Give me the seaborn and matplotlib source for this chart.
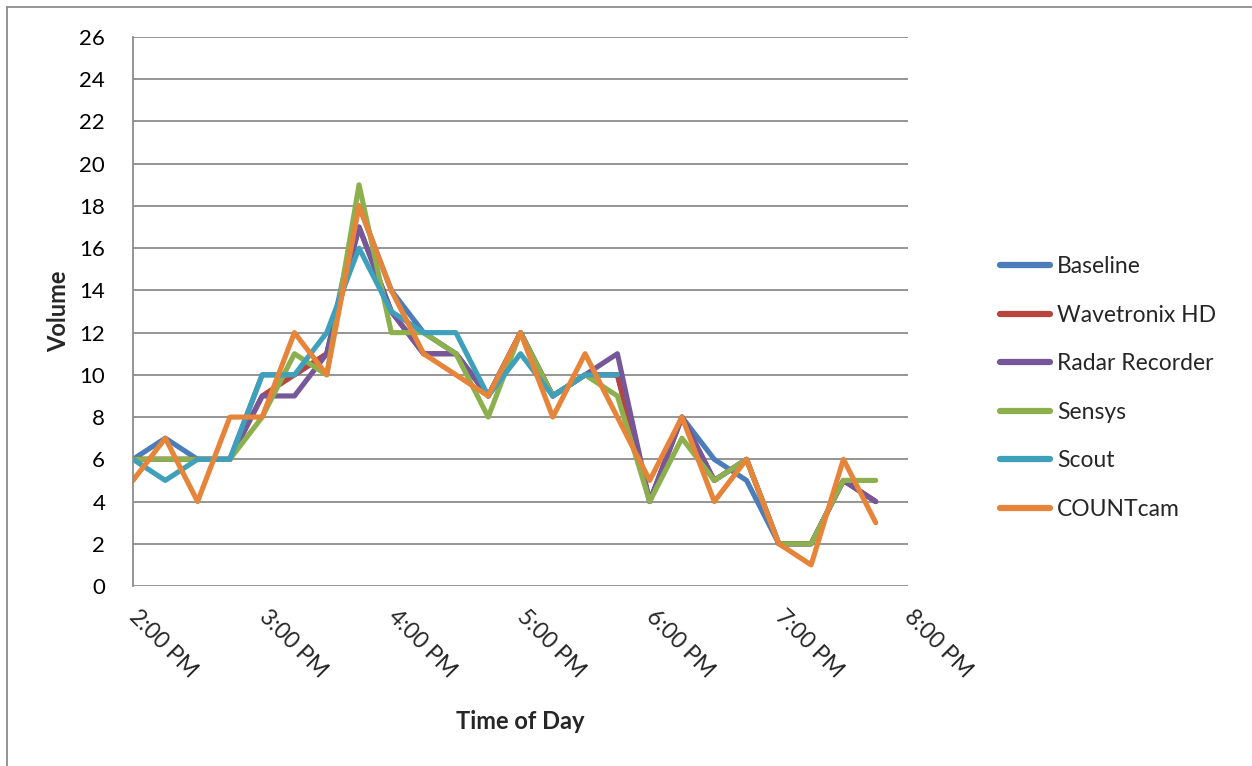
import numpy as np
import pandas as pd
import matplotlib
matplotlib.use("Agg")
import matplotlib.pyplot as plt
from matplotlib.lines import Line2D
import seaborn as sns

# 15-minute counts, 2:00 PM to 7:45 PM
times = ["14:00", "14:15", "14:30", "14:45", "15:00", "15:15", "15:30", "15:45",
         "16:00", "16:15", "16:30", "16:45", "17:00", "17:15", "17:30", "17:45",
         "18:00", "18:15", "18:30", "18:45", "19:00", "19:15", "19:30", "19:45"]

baseline = [6, 7, 6, 6, 10, 10, 11, 18, 14, 12, 11, 9, 12, 9, 10, 10, 4, 8, 6, 5, 2, 2, 5, 4]
wavetronix = [6, 6, 6, 6, 9, 10, 11, 17, 13, 11, 11, 9, 12, 9, 10, 10, 4, 8, 5, 6, 2, 2, 5, 4]
radar = [6, 6, 6, 6, 9, 9, 11, 17, 13, 11, 11, 9, 12, 9, 10, 11, 4, 8, 5, 6, 2, 2, 5, 4]
sensys = [6, 6, 6, 6, 8, 11, 10, 19, 12, 12, 11, 8, 12, 9, 10, 9, 4, 7, 5, 6, 2, 2, 5, 5]
scout = [6, 5, 6, 6, 10, 10, 12, 16, 13, 12, 12, 9, 11, 9, 10, 10,
         np.nan, np.nan, np.nan, np.nan, np.nan, np.nan, np.nan, np.nan]
countcam = [5, 7, 4, 8, 8, 12, 10, 18, 14, 11, 10, 9, 12, 8, 11, 8, 5, 8, 4, 6, 2, 1, 6, 3]

series_names = ["Baseline", "Wavetronix HD", "Radar Recorder", "Sensys", "Scout", "COUNTcam"]
series_vals = [baseline, wavetronix, radar, sensys, scout, countcam]
colors = ["#4A7DBA", "#B8443F", "#76579A", "#8DB04E", "#3FA0BC", "#E6843A"]

tick_hours = [14, 15, 16, 17, 18, 19, 20]
tick_labels = ["2:00 PM", "3:00 PM", "4:00 PM", "5:00 PM", "6:00 PM", "7:00 PM", "8:00 PM"]

hours = [int(t.split(":")[0]) + int(t.split(":")[1]) / 60 for t in times]
frames = []
for name, vals in zip(series_names, series_vals):
    frames.append(pd.DataFrame({"hour": hours, "Volume": vals, "series": name}))
df = pd.concat(frames, ignore_index=True).dropna()

sns.set_theme(style="white")
plt.rcParams["font.family"] = ["Lato", "DejaVu Sans"]

fig = plt.figure(figsize=(12.52, 7.66), dpi=100)
ax = fig.add_axes([133 / 1252, 1 - 586 / 766, 775 / 1252, 549 / 766])

sns.lineplot(data=df, x="hour", y="Volume", hue="series", hue_order=series_names,
             palette=colors, linewidth=3.7, ax=ax, legend=False,
             solid_joinstyle="round", solid_capstyle="round")

ax.set_xlim(14, 20)
ax.set_ylim(0, 26)
ax.set_yticks(range(0, 27, 2))
ax.set_xticks(tick_hours)
ax.set_xticklabels(tick_labels, rotation=-45, ha="left", va="center",
                   rotation_mode="anchor", fontsize=16.5)
ax.tick_params(axis="y", labelsize=16, length=0, pad=20)
ax.tick_params(axis="x", length=0, pad=20)
for lab in ax.get_yticklabels():
    lab.set_color("black")

ax.grid(axis="y", color="#8C8C8C", linewidth=1.3)
ax.grid(axis="x", visible=False)
ax.set_axisbelow(True)
for side in ["top", "right", "bottom"]:
    ax.spines[side].set_visible(False)
ax.spines["left"].set_color("#8C8C8C")
ax.spines["left"].set_linewidth(1.3)

ax.set_ylabel("Volume", fontsize=17, fontweight="bold")
ax.set_xlabel("Time of Day", fontsize=17, fontweight="bold")
ax.yaxis.set_label_coords(-0.081, 0.5)
ax.xaxis.set_label_coords(0.5, -0.225)

handles = [Line2D([0], [0], color=c, linewidth=4.5, solid_capstyle="round") for c in colors]
fig.legend(handles, series_names, loc="center left", bbox_to_anchor=(1000 / 1252, 1 - 388 / 766),
           frameon=False, fontsize=16.5, handlelength=2.2, handletextpad=0.3, labelspacing=1.2,
           borderpad=0, borderaxespad=0)

# chart area border (top and left edges)
fig.add_artist(Line2D([7 / 1252, 1], [1 - 7 / 766, 1 - 7 / 766], color="#8C8C8C", linewidth=1.3))
fig.add_artist(Line2D([7 / 1252, 7 / 1252], [0, 1 - 7 / 766], color="#8C8C8C", linewidth=1.3))

fig.savefig("out.png", dpi=100)
